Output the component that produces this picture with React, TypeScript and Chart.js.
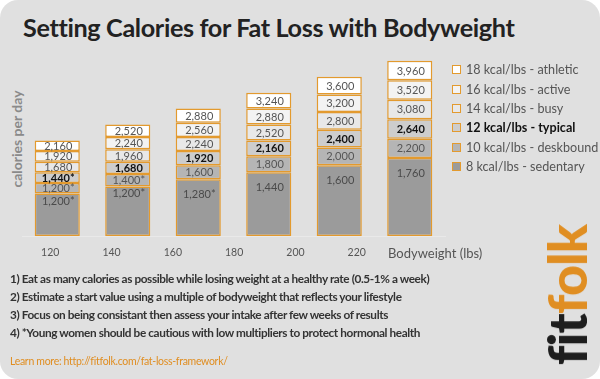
import React, { useEffect, useRef } from "react";
import { Chart, registerables } from "chart.js";
Chart.register(...registerables);

// ---- data ----
const categories = ["120", "140", "160", "180", "200", "220"];
const xTickValues = [120, 140, 160, 180, 200, 220];

// cumulative calories (top of each segment)
const sedentary = [960, 1120, 1280, 1440, 1600, 1760];
const deskbound = [1200, 1400, 1600, 1800, 2000, 2200];
const typical = [1440, 1680, 1920, 2160, 2400, 2640];
const busy = [1680, 1960, 2240, 2520, 2800, 3080];
const active = [1920, 2240, 2560, 2880, 3200, 3520];
const athletic = [2160, 2520, 2880, 3240, 3600, 3960];

// printed labels (min 1,200 marked with *)
const sedentaryLabels = ["1,200*", "1,200*", "1,280*", "1,440", "1,600", "1,760"];
const deskboundLabels = ["1,200*", "1,400*", "1,600", "1,800", "2,000", "2,200"];
const typicalLabels = ["1,440*", "1,680", "1,920", "2,160", "2,400", "2,640"];
const busyLabels = ["1,680", "1,960", "2,240", "2,520", "2,800", "3,080"];
const activeLabels = ["1,920", "2,240", "2,560", "2,880", "3,200", "3,520"];
const athleticLabels = ["2,160", "2,520", "2,880", "3,240", "3,600", "3,960"];

const seriesNames = [
  "8 kcal/lbs - sedentary",
  "10 kcal/lbs - deskbound",
  "12 kcal/lbs - typical",
  "14 kcal/lbs - busy",
  "16 kcal/lbs - active",
  "18 kcal/lbs - athletic",
];
const seriesColors = ["#9b9b9b", "#b5b5b5", "#cdcdcd", "#e8e8e8", "#f3f3f3", "#ffffff"];
const seriesBold = [false, false, true, false, false, false];

const notes = [
  "1) Eat as many calories as possible while losing weight at a healthy rate (0.5-1% a week)",
  "2) Estimate a start value using a multiple of bodyweight that reflects your lifestyle",
  "3) Focus on being consistant then assess your intake after few weeks of results",
  "4) *Young women should be cautious with low multipliers to protect hormonal health",
];

const ORANGE = "#e08e22";
const BORDER = "#e39a2e";
const FONT = "Lato, 'Open Sans', sans-serif";
const XL_MIN = 110.78;
const XL_MAX = 248.8;

const tops = [sedentary, deskbound, typical, busy, active, athletic];
const segLabels = [sedentaryLabels, deskboundLabels, typicalLabels, busyLabels, activeLabels, athleticLabels];

const segLabelPlugin = {
  id: "segLabels",
  afterDatasetsDraw(chart: any) {
    const ctx = chart.ctx;
    ctx.save();
    chart.data.datasets.forEach((ds: any, di: number) => {
      const meta = chart.getDatasetMeta(di);
      meta.data.forEach((bar: any, i: number) => {
        const p = bar.getProps(["x", "y", "base"], true);
        const top = Math.min(p.y, p.base);
        const bottom = Math.max(p.y, p.base);
        const h = bottom - top;
        const cy = di === 0 ? top + (h > 55 ? 15 : 7) : (top + bottom) / 2;
        ctx.font = (seriesBold[di] ? "bold " : "") + "11px " + FONT;
        ctx.fillStyle = seriesBold[di] ? "#111111" : di === 0 ? "#4a4a4a" : "#555555";
        ctx.textAlign = "center";
        ctx.textBaseline = "middle";
        ctx.fillText(segLabels[di][i], p.x + 1, cy + 0.5);
      });
    });
    ctx.restore();
  },
};

function ChartCanvas() {
  const ref = useRef<HTMLCanvasElement | null>(null);
  useEffect(() => {
    if (!ref.current) return;
    const datasets = tops.map((arr, di) => ({
      label: seriesNames[di],
      data: arr.map((v, i) => [di === 0 ? 0 : tops[di - 1][i], v]),
      backgroundColor: seriesColors[di],
      borderColor: BORDER,
      borderWidth: 1.5,
      borderSkipped: false,
      barPercentage: 0.64,
      categoryPercentage: 1,
    }));
    const chart = new Chart(ref.current, {
      type: "bar",
      data: { labels: categories, datasets: datasets as any },
      plugins: [segLabelPlugin],
      options: {
        animation: false,
        responsive: false,
        devicePixelRatio: 1,
        layout: { padding: { left: 22, right: 155, top: 9, bottom: 2 } },
        plugins: { legend: { display: false }, tooltip: { enabled: false } },
        scales: {
          x: { display: false, stacked: true },
          xl: {
            type: "linear",
            position: "bottom",
            offset: false,
            bounds: "data",
            beginAtZero: false,
            grace: 0,
            min: XL_MIN,
            max: XL_MAX,
            afterDataLimits: (axis: any) => {
              axis.min = XL_MIN;
              axis.max = XL_MAX;
            },
            afterBuildTicks: (axis: any) => {
              axis.ticks = xTickValues.map((v) => ({ value: v }));
            },
            grid: { display: false, drawTicks: false, offset: false },
            border: { display: true, color: "#e9e9e9", width: 1 },
            ticks: {
              padding: 10.7,
              includeBounds: false,
              autoSkip: false,
              color: "#555555",
              font: { size: 10.5, family: FONT },
              callback: (v: any) => String(v),
            },
          },
          y: { display: false, stacked: false, min: 0, max: 4000 },
        },
      } as any,
    });
    return () => chart.destroy();
  }, []);
  return (
    <canvas
      ref={ref}
      width={600}
      height={222}
      style={{ position: "absolute", left: 0, top: 50, width: 600, height: 222 }}
    />
  );
}

export default function App() {
  const legendOrder = [5, 4, 3, 2, 1, 0];
  return (
    <div style={{ position: "fixed", left: 0, top: 0, width: 600, height: 379, background: "#ffffff", overflow: "hidden" }}>
      <div style={{ position: "absolute", left: 0, top: 0, width: 600, height: 379, borderRadius: 18, background: "#e0e0e0", fontFamily: FONT }}>
        <div style={{ position: "absolute", left: 23, top: 15, fontSize: 25.2, lineHeight: "25px", fontWeight: 700, letterSpacing: -0.35, color: "#222222", whiteSpace: "nowrap" }}>
          Setting Calories for Fat Loss with Bodyweight
        </div>
        <div style={{ position: "absolute", left: 17, top: 139, width: 0, height: 0 }}>
          <div style={{ position: "absolute", transform: "translate(-50%,-50%) rotate(-90deg)", fontSize: 14, fontWeight: 700, color: "#8a8a8a", whiteSpace: "nowrap", lineHeight: "16px" }}>
            calories per day
          </div>
        </div>
        <ChartCanvas />
        <div style={{ position: "absolute", left: 0, top: 60.3 }}>
          {legendOrder.map((di) => (
            <div key={di} style={{ position: "relative", height: 19.4, width: 150 }}>
              <div style={{ position: "absolute", left: 452, top: 5, width: 7, height: 7, border: "1.5px solid " + BORDER, background: seriesColors[di] }} />
              <div style={{ position: "absolute", left: 466, top: 0, lineHeight: "19.4px", fontSize: 12.6, fontWeight: seriesBold[di] ? 700 : 400, color: seriesBold[di] ? "#111111" : "#555555", whiteSpace: "nowrap" }}>
                {seriesNames[di]}
              </div>
            </div>
          ))}
        </div>
        <div style={{ position: "absolute", left: 388, top: 245, fontSize: 13, lineHeight: "16px", color: "#555555", whiteSpace: "nowrap" }}>
          Bodyweight (lbs)
        </div>
        <div style={{ position: "absolute", left: 10, top: 270 }}>
          {notes.map((n, i) => (
            <div key={i} style={{ fontSize: 11.8, lineHeight: "18px", fontWeight: 700, letterSpacing: -0.4, color: "#333333", whiteSpace: "nowrap" }}>
              {n}
            </div>
          ))}
        </div>
        <div style={{ position: "absolute", left: 10, top: 354, fontSize: 10.5, lineHeight: "14px", letterSpacing: -0.3, color: ORANGE, whiteSpace: "nowrap" }}>
          Learn more: http://fitfolk.com/fat-loss-framework/
        </div>
        <div style={{ position: "absolute", left: 567, top: 295, width: 0, height: 0 }}>
          <div style={{ position: "absolute", transform: "translate(-50%,-50%) rotate(-90deg)", fontSize: 54, lineHeight: "54px", fontWeight: 900, whiteSpace: "nowrap", letterSpacing: -1 }}>
            <span style={{ color: "#1e1e1e" }}>fit</span>
            <span style={{ color: ORANGE }}>folk</span>
          </div>
        </div>
      </div>
    </div>
  );
}
